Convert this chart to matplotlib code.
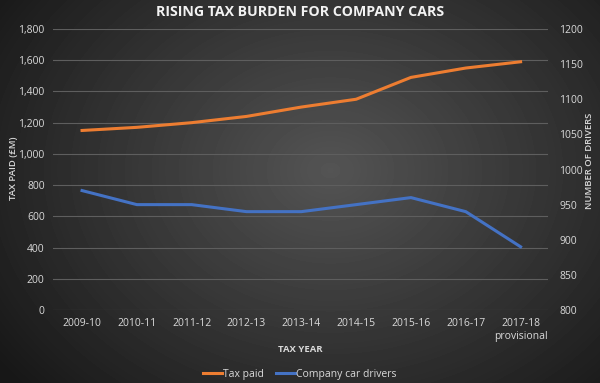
import numpy as np
import matplotlib
matplotlib.use("Agg")
import matplotlib.pyplot as plt

years = ["2009-10", "2010-11", "2011-12", "2012-13", "2013-14",
         "2014-15", "2015-16", "2016-17", "2017-18\nprovisional"]
tax_paid = [1150, 1170, 1200, 1240, 1300, 1350, 1490, 1550, 1590]
drivers = [970, 950, 950, 940, 940, 950, 960, 940, 890]

plt.rcParams['font.family'] = ['Open Sans', 'DejaVu Sans']
txt = "#d9d9d9"

fig = plt.figure(figsize=(6, 3.83), dpi=100)

# dark radial background
bg = fig.add_axes([0, 0, 1, 1], zorder=-10)
yy, xx = np.mgrid[0:383, 0:600]
r = np.sqrt(((xx - 330) / 380.0) ** 2 + ((yy - 170) / 300.0) ** 2)
shade = np.clip(0.33 - 0.22 * r, 0.09, 0.33)
bg.imshow(shade, cmap="gray", vmin=0, vmax=1, aspect="auto", extent=[0, 1, 0, 1])
bg.axis("off")

ax = fig.add_axes([53 / 600, 1 - 310 / 383, 495 / 600, 281 / 383])
ax.patch.set_alpha(0)
x = np.arange(len(years))
l1, = ax.plot(x, tax_paid, color="#ED7D31", lw=2.2, label="Tax paid", zorder=3)
ax.set_ylim(0, 1800)
ax.set_yticks(range(0, 1801, 200))
ax.set_yticklabels([f"{v:,}" for v in range(0, 1801, 200)])
ax.set_xlim(-0.53, 8.5)
ax.set_xticks(x)
ax.set_xticklabels(years)
ax.grid(axis="y", color="#5e5e5e", lw=0.8)
ax.set_axisbelow(True)
for s in ax.spines.values():
    s.set_visible(False)
ax.tick_params(length=0, colors=txt, labelsize=7.5, pad=6)

ax2 = ax.twinx()
l2, = ax2.plot(x, drivers, color="#4472C4", lw=2.2, label="Company car drivers", zorder=3)
ax2.set_ylim(800, 1200)
ax2.set_yticks(range(800, 1201, 50))
for s in ax2.spines.values():
    s.set_visible(False)
ax2.tick_params(length=0, colors=txt, labelsize=7.5, pad=8)

fig.text(14 / 600, 1 - 168 / 383, "TAX PAID (£M)", color=txt, fontsize=6.8,
         fontweight="semibold", rotation=90, ha="center", va="center")
fig.text(590 / 600, 1 - 161 / 383, "NUMBER OF DRIVERS", color=txt, fontsize=6.8,
         fontweight="semibold", rotation=90, ha="center", va="center")
fig.text(300 / 600, 1 - 350 / 383, "TAX YEAR", color=txt, fontsize=6.8,
         fontweight="bold", ha="center", va="center")

fig.text(0.5, 1 - 12 / 383, "RISING TAX BURDEN FOR COMPANY CARS", color="#f2f2f2",
         fontsize=10.2, fontweight="bold", ha="center", va="center")

leg = fig.legend(handles=[l1, l2], loc="center", bbox_to_anchor=(0.5, 1 - 374 / 383),
                 ncol=2, frameon=False, fontsize=7.5, labelcolor=txt,
                 handlelength=1.8, handletextpad=0.1, columnspacing=1.2)

fig.savefig("out.png", dpi=100)
